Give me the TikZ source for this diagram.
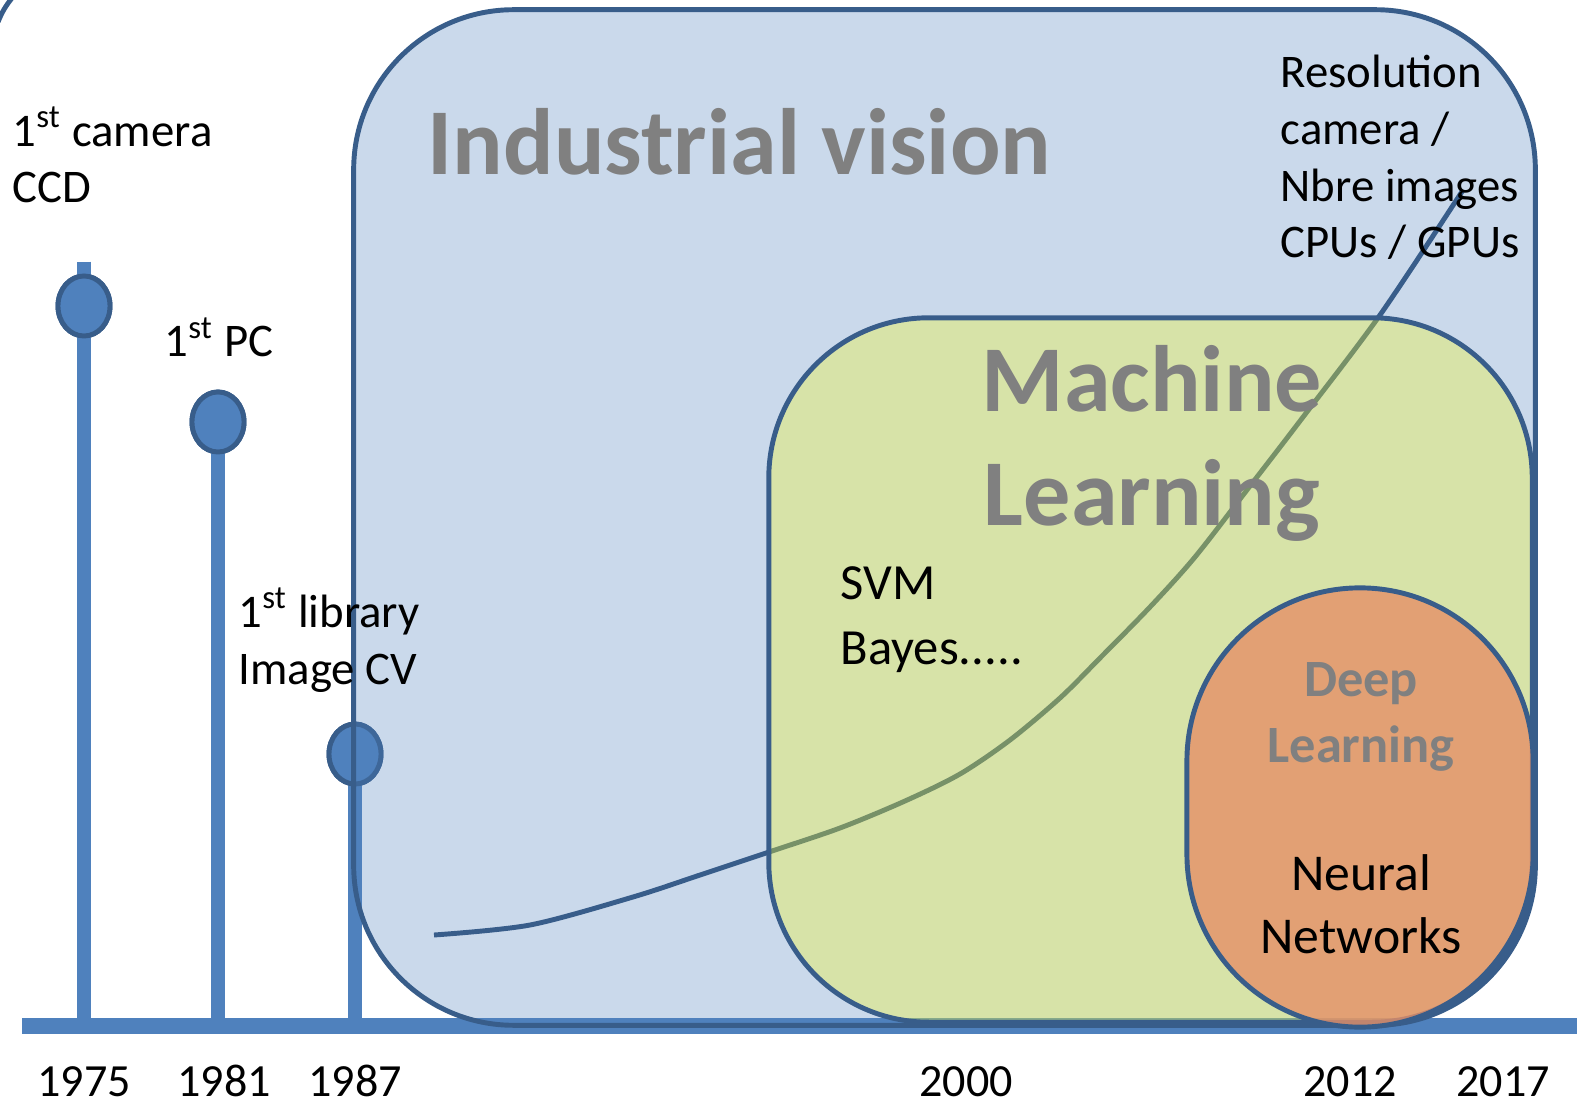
\documentclass[tikz,border=0pt]{standalone}
\usepackage{fontspec}
\setmainfont{Carlito}
\usetikzlibrary{shapes.geometric}
\definecolor{lineblue}{RGB}{79,129,189}
\definecolor{edgeblue}{RGB}{56,93,138}
\definecolor{labelgray}{RGB}{128,128,128}
\definecolor{mlgreen}{RGB}{243,247,40}
\definecolor{dlorange}{RGB}{229,144,104}

\begin{document}
\begin{tikzpicture}[x=0.01cm, y=-0.01cm,
  stick/.style={draw=lineblue, line width=4pt},
  pin/.style={ellipse, fill=lineblue, draw=edgeblue, line width=1.4pt,
    minimum width=0.52cm, minimum height=0.6cm, inner sep=0pt},
  area/.style={rectangle, draw=edgeblue, line width=1.4pt,
    inner sep=0pt, outer sep=0pt},
  note/.style={anchor=base west, inner sep=0pt, align=left,
    font=\fontsize{13.3}{16.2}\selectfont},
  year/.style={anchor=base, inner sep=0pt, font=\fontsize{13.1}{16}\selectfont},
  title/.style={inner sep=0pt, text=labelgray, font=\bfseries\fontsize{26.8}{32.7}\selectfont},
]
  \useasboundingbox (0,0) rectangle (1577,1104);

  % time axis
  \coordinate (axisL) at (22,1026);
  \coordinate (axisR) at (1580,1026);
  \draw[lineblue, line width=4.3pt] (axisL) -- (axisR);

  % milestones
  \node[pin] (pin1) at (84,306) {};
  \node[pin] (pin2) at (218,422) {};
  \node[pin] (pin3) at (355,754) {};
  \draw[stick] ([yshift=1.2mm]pin1.north) -- (pin1 |- axisL);
  \draw[stick] (pin2.center) -- (pin2 |- axisL);
  \draw[stick] (pin3.center) -- (pin3 |- axisL);
  \node[pin] at (pin1) {};
  \node[pin] at (pin2) {};
  \node[pin] at (pin3) {};

  % nested fields
  \node[area, fill=lineblue, fill opacity=0.3, rounded corners=1.6cm,
    minimum width=11.81cm, minimum height=10.15cm] (iv) at (944.5,517.5) {};
  \draw[edgeblue, line width=1.4pt] plot[smooth, tension=0.5] coordinates {(434,935)
    (530,925) (633,897) (700,875) (769,852) (840,828) (905,801) (960,774)
    (1010,740) (1060,698) (1100,658) (1150,607) (1195,557) (1250,486)
    (1300,421) (1380,315) (1463,190)};
  \node[area, fill=mlgreen, fill opacity=0.34, rounded corners=1.6cm,
    minimum width=7.63cm, minimum height=7.04cm] (ml) at (1150.5,670) {};
  \node[area, fill=dlorange, fill opacity=0.8, rounded corners=1.73cm,
    minimum width=3.46cm, minimum height=4.39cm] (dl) at (1360,807.5) {};

  % small arc in the corner
  \draw[edgeblue, line width=1.4pt] (-2,22) to[bend left=8] (12,-2);

  % labels (multi-line nodes sit on their last baseline)
  \node[title, anchor=base west] (ivT) at (427,175) {Industrial vision};
  \node[title, anchor=base, align=center] (mlT) at (1152,526) {Machine\\Learning};
  \node[inner sep=0pt, anchor=base, align=center, text=labelgray,
    font=\bfseries\fontsize{14.9}{18.5}\selectfont] (dlT) at (1361,762) {Deep\\Learning};
  \node[inner sep=0pt, anchor=base, align=center,
    font=\fontsize{14.7}{17.9}\selectfont] (nn) at (1361,953) {Neural\\Networks};
  \node[note, font=\fontsize{14.4}{18.2}\selectfont] (svm) at (840,664) {SVM\\Bayes.....};
  \node[note] (res) at (1280,258) {Resolution\\camera /\\Nbre images\\CPUs / GPUs};

  \node[note] (cam) at (12,203) {1\textsuperscript{st} camera\\CCD};
  \node[note] (pc) at (164,357) {1\textsuperscript{st} PC};
  \node[note] (lib) at (238,684) {1\textsuperscript{st} library\\Image CV};

  % years
  \node[year] (y1) at (84,1096) {1975};
  \node[year] (y2) at (224,1096) {1981};
  \node[year] (y3) at (355,1096) {1987};
  \node[year] (y4) at (966,1096) {2000};
  \node[year] (y5) at (1350,1096) {2012};
  \node[year] (y6) at (1503,1096) {2017};
\end{tikzpicture}
\end{document}
